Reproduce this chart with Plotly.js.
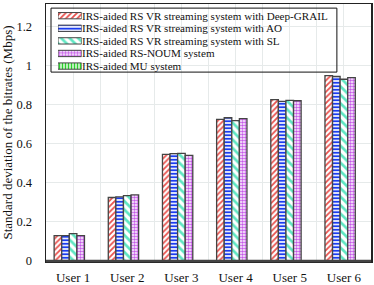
<!DOCTYPE html>
<html>
<head>
<meta charset="utf-8">
<script src="https://cdn.plot.ly/plotly-3.0.1.min.js"></script>
<style>html,body{margin:0;padding:0;background:#fff;}#chart{width:374px;height:285px;}</style>
</head>
<body>
<div id="chart"></div>
<script>
const users = ["User 1", "User 2", "User 3", "User 4", "User 5", "User 6"];
const seriesNames = [
  "IRS-aided RS VR streaming system with Deep-GRAIL",
  "IRS-aided RS VR streaming system with AO",
  "IRS-aided RS VR streaming system with SL",
  "IRS-aided RS-NOUM system",
  "IRS-aided MU system"
];
const deepGrail = [0.130, 0.325, 0.546, 0.725, 0.826, 0.949];
const ao        = [0.130, 0.328, 0.549, 0.733, 0.817, 0.944];
const sl        = [0.140, 0.335, 0.551, 0.718, 0.822, 0.930];
const noum      = [0.130, 0.338, 0.540, 0.728, 0.820, 0.938];
const mu        = [null, null, null, null, null, null];
const yTickVals = [0, 0.2, 0.4, 0.6, 0.8, 1, 1.2];
const yTickText = ["0", "0.2", "0.4", "0.6", "0.8", "1", "1.2"];

const values = [deepGrail, ao, sl, noum, mu];
const styles = [
  {fg: "#e8504c", shape: "/", size: 4, sol: 0.45},
  {fg: "#1a3cf0", shape: "-", size: 3.5, sol: 0.55},
  {fg: "#5fe6c2", shape: "\\", size: 6, sol: 0.45},
  {fg: "#c65ae8", shape: ".", size: 3, sol: 0.55},
  {fg: "#2ad02a", shape: "|", size: 3, sol: 0.55}
];
const serif = "Liberation Serif";
const userPos = users.map((u, i) => i);
const userBounds = users.map((u, i) => i + 0.5);

function pat(st) {
  return {shape: st.shape, fgcolor: st.fg, bgcolor: "#ffffff", fgopacity: 1,
          size: st.size, solidity: st.sol, fillmode: "replace"};
}

const traces = [];
values.forEach((v, i) => {
  traces.push({
    type: "bar", x: userPos, y: v, name: seriesNames[i], showlegend: false,
    marker: {color: "#ffffff", line: {color: "#444444", width: 1.3}, pattern: pat(styles[i])},
    hoverinfo: "skip"
  });
});
// legend swatches (custom legend so rows are compact)
seriesNames.forEach((n, i) => {
  traces.push({
    type: "bar", orientation: "h", xaxis: "x2", yaxis: "y2",
    y: [i], x: [1], base: 0, width: 0.5, offset: -0.25, showlegend: false,
    marker: {color: "#ffffff", line: {color: "#444444", width: 1}, pattern: pat(styles[i])},
    hoverinfo: "skip"
  });
});

const annotations = seriesNames.map((n, i) => ({
  xref: "paper", yref: "y2", x: 0.1046, y: i, xanchor: "left", yanchor: "middle",
  text: n, showarrow: false, font: {family: serif, size: 11.1, color: "#111"}
}));

const layout = {
  width: 374, height: 285,
  margin: {l: 46, r: 3, t: 4, b: 24},
  paper_bgcolor: "#ffffff", plot_bgcolor: "#ffffff",
  barmode: "group", bargap: 0.3, bargroupgap: 0,
  showlegend: false,
  font: {family: serif, size: 13, color: "#111"},
  xaxis: {
    range: [-0.5, 5.5], tickmode: "array", tickvals: userPos, ticktext: users,
    showgrid: true, gridcolor: "#e6eaea", gridwidth: 1, zeroline: false,
    minor: {tickmode: "array", tickvals: userBounds, showgrid: true, gridcolor: "#e6eaea", gridwidth: 1, ticks: ""},
    showline: true, linecolor: "#222", linewidth: 1.5, mirror: true,
    ticks: "", ticklabelstandoff: 4, tickfont: {family: serif, size: 13, color: "#111"}
  },
  yaxis: {
    range: [0, 1.315], tickmode: "array", tickvals: yTickVals, ticktext: yTickText,
    showgrid: true, gridcolor: "#e6eaea", gridwidth: 1, zeroline: false,
    showline: true, linecolor: "#222", linewidth: 1.5, mirror: true,
    ticks: "", ticklabelstandoff: 10, tickfont: {family: serif, size: 12.5, color: "#111"},
    title: {text: "Standard deviation of the bitrates (Mbps)", standoff: 5, font: {family: serif, size: 13, color: "#111"}}
  },
  xaxis2: {domain: [0.0369, 0.1098], anchor: "y2", range: [0, 1], visible: false, fixedrange: true},
  yaxis2: {domain: [0.734, 0.979], anchor: "x2", range: [4.5, -0.5], visible: false, fixedrange: true},
  shapes: [
    {type: "rect", xref: "paper", yref: "paper", x0: 0.0154, x1: 0.895, y0: 0.735, y1: 0.984,
     line: {color: "#111", width: 1}, fillcolor: "rgba(0,0,0,0)", layer: "above"},
    {type: "line", xref: "paper", yref: "paper", x0: 0, x1: 1, y0: 0, y1: 0,
     line: {color: "#444", width: 2.5}, layer: "above"}
  ],
  annotations: annotations
};

Plotly.newPlot("chart", traces, layout, {displayModeBar: false, staticPlot: true});
</script>
</body>
</html>
